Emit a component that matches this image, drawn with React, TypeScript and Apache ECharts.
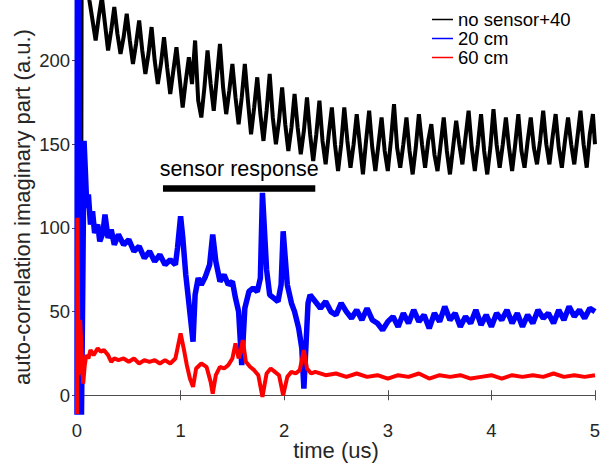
import React, { useEffect, useRef } from "react";
import * as echarts from "echarts";

const xTicks = [0, 1, 2, 3, 4, 5];
const yTicks = [0, 50, 100, 150, 200];
const seriesNames = ["no sensor+40", "20 cm", "60 cm"];

const black: [number, number][] = [
  [0.04, 60], [0.045, 270], [0.09, 250],
  [0.12, 236], [0.15, 224], [0.18, 212], [0.21, 226], [0.24, 238], [0.27, 222], [0.3, 206],
  [0.33, 218], [0.36, 232], [0.39, 216], [0.42, 204], [0.45, 214], [0.48, 228], [0.51, 212],
  [0.54, 198], [0.57, 210], [0.6, 224], [0.63, 206], [0.66, 192], [0.69, 204], [0.72, 220],
  [0.75, 200], [0.78, 186], [0.81, 198], [0.84, 214], [0.87, 196], [0.9, 180], [0.93, 194],
  [0.96, 208], [0.99, 190], [1.02, 172], [1.05, 188], [1.08, 202], [1.11, 186], [1.14, 212],
  [1.17, 176], [1.2, 166], [1.23, 184], [1.26, 206], [1.29, 186], [1.32, 170], [1.35, 190],
  [1.38, 210], [1.41, 184], [1.44, 168], [1.47, 182], [1.5, 198], [1.53, 178], [1.56, 162],
  [1.59, 178], [1.62, 198], [1.65, 176], [1.68, 156], [1.71, 172], [1.74, 190], [1.77, 168],
  [1.8, 152], [1.83, 170], [1.86, 192], [1.89, 166], [1.92, 150], [1.95, 164], [1.98, 184],
  [2.01, 162], [2.04, 146], [2.07, 160], [2.1, 180], [2.13, 160], [2.16, 144], [2.19, 158],
  [2.22, 178], [2.25, 156], [2.28, 140], [2.31, 156], [2.34, 176], [2.37, 152], [2.4, 138],
  [2.43, 156], [2.46, 172], [2.49, 150], [2.52, 134], [2.55, 150], [2.58, 172], [2.61, 152],
  [2.64, 136], [2.67, 150], [2.7, 168], [2.73, 150], [2.76, 132], [2.79, 152], [2.82, 170],
  [2.85, 148], [2.88, 134], [2.91, 150], [2.94, 166], [2.97, 146], [3.0, 134], [3.03, 152],
  [3.06, 174], [3.09, 148], [3.12, 136], [3.15, 150], [3.18, 166], [3.21, 146], [3.24, 132],
  [3.27, 148], [3.3, 168], [3.33, 150], [3.36, 136], [3.39, 152], [3.42, 162], [3.45, 144],
  [3.48, 134], [3.51, 150], [3.54, 166], [3.57, 146], [3.6, 132], [3.63, 148], [3.66, 164],
  [3.69, 150], [3.72, 138], [3.75, 154], [3.78, 170], [3.81, 148], [3.84, 134], [3.87, 150],
  [3.9, 168], [3.93, 146], [3.96, 132], [3.99, 148], [4.02, 171], [4.05, 150], [4.08, 136],
  [4.11, 150], [4.14, 166], [4.17, 148], [4.2, 134], [4.23, 150], [4.26, 168], [4.29, 146],
  [4.32, 136], [4.35, 152], [4.38, 166], [4.41, 148], [4.44, 138], [4.47, 152], [4.5, 170],
  [4.53, 150], [4.56, 138], [4.59, 154], [4.62, 168], [4.65, 148], [4.68, 136], [4.71, 152],
  [4.74, 166], [4.77, 150], [4.8, 138], [4.83, 154], [4.86, 170], [4.89, 150], [4.92, 136],
  [4.95, 156], [4.98, 168], [5.0, 150],
];

const blue: [number, number][] = [
  [0, -20], [0.003, 260], [0.012, 260], [0.03, 80], [0.042, -20], [0.055, 60],
  [0.068, 152], [0.08, 135], [0.095, 112], [0.11, 120], [0.13, 102], [0.15, 110],
  [0.17, 97], [0.2, 102], [0.22, 92], [0.25, 97], [0.27, 108], [0.3, 94], [0.33, 99],
  [0.36, 90], [0.4, 96], [0.45, 90], [0.5, 93], [0.55, 86], [0.6, 89], [0.65, 82],
  [0.7, 86], [0.75, 80], [0.8, 84], [0.85, 78], [0.9, 81], [0.95, 78], [0.97, 88],
  [1.0, 107], [1.02, 95], [1.05, 72], [1.08, 55], [1.12, 32], [1.14, 60], [1.17, 70],
  [1.2, 66], [1.24, 71], [1.28, 78], [1.31, 96], [1.34, 80], [1.38, 68], [1.42, 72],
  [1.46, 66], [1.5, 68], [1.53, 58], [1.56, 50], [1.59, 18], [1.62, 52], [1.66, 62],
  [1.7, 64], [1.74, 62], [1.77, 70], [1.79, 121], [1.83, 75], [1.86, 60], [1.9, 58],
  [1.94, 56], [1.97, 66], [1.99, 98], [2.03, 66], [2.07, 55], [2.1, 50], [2.14, 40],
  [2.17, 28], [2.19, 4], [2.23, 55], [2.25, 60], [2.3, 56], [2.35, 52], [2.4, 56],
  [2.45, 50], [2.5, 48], [2.55, 55], [2.6, 50], [2.65, 46], [2.7, 51], [2.75, 45],
  [2.8, 52], [2.85, 45], [2.9, 43], [2.95, 39], [3.0, 44], [3.05, 47], [3.1, 41],
  [3.15, 49], [3.2, 43], [3.25, 51], [3.3, 44], [3.35, 48], [3.4, 40], [3.45, 49],
  [3.5, 44], [3.55, 53], [3.6, 45], [3.65, 49], [3.7, 41], [3.75, 47], [3.8, 43],
  [3.85, 51], [3.9, 42], [3.95, 48], [4.0, 41], [4.05, 49], [4.1, 45], [4.15, 51],
  [4.2, 43], [4.25, 49], [4.3, 41], [4.35, 48], [4.4, 43], [4.45, 51], [4.5, 46],
  [4.55, 49], [4.6, 43], [4.65, 51], [4.7, 45], [4.75, 53], [4.8, 47], [4.85, 51],
  [4.9, 46], [4.95, 52], [5.0, 50],
];

const red: [number, number][] = [
  [0, -20], [0.004, 106], [0.015, 12], [0.03, 45], [0.06, 7], [0.075, 18], [0.09, 24],
  [0.11, 22], [0.13, 27], [0.16, 24], [0.2, 28], [0.23, 26], [0.26, 27], [0.3, 24],
  [0.33, 20], [0.36, 22], [0.4, 21], [0.45, 22], [0.5, 20], [0.55, 22], [0.6, 19],
  [0.65, 21], [0.7, 20], [0.75, 21], [0.8, 19], [0.85, 21], [0.9, 19], [0.95, 22],
  [1.0, 37], [1.03, 28], [1.06, 18], [1.09, 10], [1.12, 5], [1.15, 16], [1.2, 19],
  [1.25, 17], [1.29, 8], [1.31, 1], [1.34, 12], [1.38, 17], [1.42, 16], [1.46, 18],
  [1.5, 22], [1.53, 31], [1.56, 22], [1.58, 26], [1.6, 33], [1.63, 20], [1.67, 17],
  [1.71, 15], [1.75, 12], [1.79, -1], [1.83, 13], [1.87, 16], [1.91, 14], [1.95, 12],
  [1.99, 0], [2.03, 11], [2.07, 14], [2.11, 13], [2.15, 15], [2.19, 27], [2.22, 16],
  [2.26, 13], [2.3, 14], [2.4, 12], [2.5, 13], [2.6, 11], [2.7, 13], [2.8, 11],
  [2.9, 12], [3.0, 10], [3.1, 12], [3.2, 11], [3.3, 13], [3.4, 10], [3.5, 12],
  [3.6, 11], [3.7, 12], [3.8, 10], [3.9, 11], [4.0, 12], [4.1, 10], [4.2, 12],
  [4.3, 11], [4.4, 12], [4.5, 11], [4.6, 13], [4.7, 11], [4.8, 12], [4.9, 11], [5.0, 12],
];

const annotationText = "sensor response";
const annotationSpan: [number, number] = [0.83, 2.3];
const annotationLevel = 124;

const FONT = "'Liberation Sans', Arial, Helvetica, sans-serif";
const AXIS_COLOR = "#4d4d4d";
const TEXT_COLOR = "#262626";

export default function App() {
  const ref = useRef<HTMLDivElement>(null);
  useEffect(() => {
    if (!ref.current) return;
    const chart = echarts.init(ref.current, undefined, { renderer: "svg" });
    const axisLine = { show: true, lineStyle: { color: AXIS_COLOR, width: 1 } };
    chart.setOption({
      animation: false,
      backgroundColor: "#ffffff",
      textStyle: { fontFamily: FONT },
      grid: {
        left: 77,
        right: 18,
        top: 2,
        bottom: 52,
        containLabel: false,
        outerBoundsMode: "none",
      },
      legend: {
        data: seriesNames,
        orient: "vertical",
        left: 432,
        top: 10,
        padding: 0,
        itemWidth: 21,
        itemHeight: 1.5,
        itemGap: 0,
        icon: "rect",
        textStyle: { fontSize: 18.5, lineHeight: 18.5, color: "#000", fontFamily: FONT },
      },
      xAxis: [
        {
          type: "value",
          min: 0,
          max: 5,
          interval: 1,
          name: "time (us)",
          nameLocation: "middle",
          nameGap: 27,
          nameMoveOverlap: false,
          nameTextStyle: { fontSize: 22, lineHeight: 22, color: TEXT_COLOR, fontFamily: FONT },
          axisLine,
          axisTick: { show: true, inside: true, length: 5, lineStyle: { color: AXIS_COLOR } },
          axisLabel: {
            fontSize: 18.5,
            color: TEXT_COLOR,
            margin: 9,
            fontFamily: FONT,
            customValues: xTicks,
          },
          splitLine: { show: false },
        },
        {
          type: "value",
          position: "top",
          min: 0,
          max: 5,
          interval: 1,
          axisLine,
          axisTick: { show: true, inside: true, length: 5, lineStyle: { color: AXIS_COLOR } },
          axisLabel: { show: false },
          splitLine: { show: false },
        },
      ],
      yAxis: [
        {
          type: "value",
          min: -10,
          max: 235,
          name: "auto-correlation imaginary part (a.u.)",
          nameLocation: "middle",
          nameGap: 44,
          nameMoveOverlap: false,
          nameTextStyle: { fontSize: 22, lineHeight: 22, color: TEXT_COLOR, fontFamily: FONT },
          axisLine,
          axisTick: {
            show: true,
            inside: true,
            length: 5,
            lineStyle: { color: AXIS_COLOR },
            customValues: yTicks,
          },
          axisLabel: {
            fontSize: 18.5,
            color: TEXT_COLOR,
            margin: 7,
            fontFamily: FONT,
            customValues: yTicks,
          },
          splitLine: { show: false },
        },
        {
          type: "value",
          position: "right",
          min: -10,
          max: 235,
          axisLine,
          axisTick: {
            show: true,
            inside: true,
            length: 5,
            lineStyle: { color: AXIS_COLOR },
            customValues: yTicks,
          },
          axisLabel: { show: false, customValues: yTicks },
          splitLine: { show: false },
        },
      ],
      series: [
        {
          name: seriesNames[0],
          type: "line",
          data: black,
          showSymbol: false,
          symbol: "none",
          color: "#000000",
          lineStyle: { color: "#000000", width: 4 },
          z: 2,
          markLine: {
            silent: true,
            symbol: ["none", "none"],
            lineStyle: { color: "#000000", width: 6.5, type: "solid" },
            label: {
              show: true,
              position: "insideMiddleTop",
              formatter: annotationText,
              fontSize: 21.5,
              color: "#000000",
              fontFamily: FONT,
              distance: 8,
            },
            data: [
              [
                { coord: [annotationSpan[0], annotationLevel] },
                { coord: [annotationSpan[1], annotationLevel] },
              ],
            ],
          },
        },
        {
          name: seriesNames[1],
          type: "line",
          data: blue,
          showSymbol: false,
          symbol: "none",
          color: "#0000ff",
          lineStyle: { color: "#0000ff", width: 5.5 },
          z: 3,
        },
        {
          name: seriesNames[2],
          type: "line",
          data: red,
          showSymbol: false,
          symbol: "none",
          color: "#ff0000",
          lineStyle: { color: "#ff0000", width: 4 },
          z: 4,
        },
      ],
    });
    return () => chart.dispose();
  }, []);
  return (
    <div
      ref={ref}
      style={{ position: "fixed", left: 0, top: 0, width: 613, height: 464, background: "#fff" }}
    />
  );
}
